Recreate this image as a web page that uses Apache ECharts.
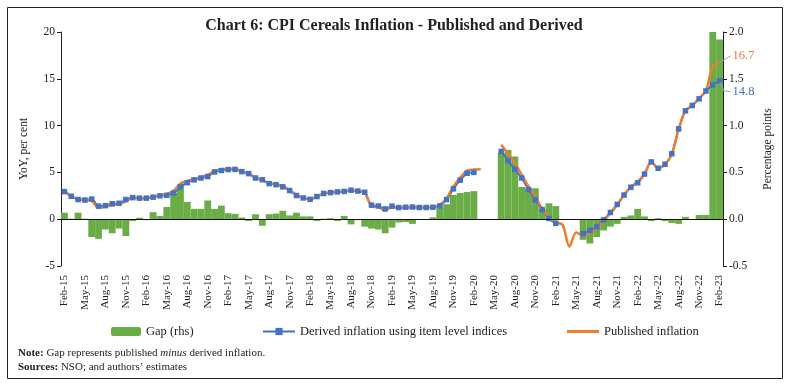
<!DOCTYPE html>
<html>
<head>
<meta charset="utf-8">
<script src="https://cdn.jsdelivr.net/npm/echarts@6/dist/echarts.min.js"></script>
<style>
html,body{margin:0;padding:0;background:#fff;}
#chart{width:788px;height:383px;}
</style>
</head>
<body>
<div id="chart"></div>
<script>
const categories = [
'Feb-15','Mar-15','Apr-15','May-15','Jun-15','Jul-15','Aug-15','Sep-15','Oct-15','Nov-15','Dec-15','Jan-16',
'Feb-16','Mar-16','Apr-16','May-16','Jun-16','Jul-16','Aug-16','Sep-16','Oct-16','Nov-16','Dec-16','Jan-17',
'Feb-17','Mar-17','Apr-17','May-17','Jun-17','Jul-17','Aug-17','Sep-17','Oct-17','Nov-17','Dec-17','Jan-18',
'Feb-18','Mar-18','Apr-18','May-18','Jun-18','Jul-18','Aug-18','Sep-18','Oct-18','Nov-18','Dec-18','Jan-19',
'Feb-19','Mar-19','Apr-19','May-19','Jun-19','Jul-19','Aug-19','Sep-19','Oct-19','Nov-19','Dec-19','Jan-20',
'Feb-20','Mar-20','Apr-20','May-20','Jun-20','Jul-20','Aug-20','Sep-20','Oct-20','Nov-20','Dec-20','Jan-21',
'Feb-21','Mar-21','Apr-21','May-21','Jun-21','Jul-21','Aug-21','Sep-21','Oct-21','Nov-21','Dec-21','Jan-22',
'Feb-22','Mar-22','Apr-22','May-22','Jun-22','Jul-22','Aug-22','Sep-22','Oct-22','Nov-22','Dec-22','Jan-23',
'Feb-23'];

// Gap (rhs), percentage points
const gap = [
0.07,0.005,0.07,0.005,-0.19,-0.21,-0.11,-0.15,-0.10,-0.18,-0.02,0.015,
-0.01,0.075,0.035,0.13,0.28,0.37,0.185,0.11,0.11,0.20,0.11,0.145,
0.064,0.057,0.018,-0.02,0.053,-0.07,0.053,0.06,0.09,0.04,0.07,0.03,
0.03,-0.02,0.005,0.01,-0.02,0.035,-0.055,-0.01,-0.08,-0.10,-0.11,-0.15,
-0.09,-0.035,-0.03,-0.05,0.0,0.0,0.02,0.135,0.16,0.26,0.28,0.29,
0.30,null,null,null,0.71,0.74,0.67,0.345,0.33,0.33,0.11,0.17,
0.14,null,null,null,-0.22,-0.26,-0.19,-0.12,-0.08,-0.05,0.025,0.04,
0.11,0.03,-0.02,0.01,-0.02,-0.04,-0.05,0.025,0.0,0.045,0.045,2.0,
1.92];

// Derived inflation using item level indices, per cent
const derived = [
2.95,2.45,2.1,2.05,2.15,1.4,1.45,1.65,1.7,2.1,2.3,2.25,
2.25,2.35,2.5,2.55,2.8,3.45,3.9,4.2,4.4,4.55,5.05,5.2,
5.3,5.32,5.08,4.87,4.4,4.22,3.8,3.69,3.46,3.06,2.53,2.27,
2.12,2.42,2.75,2.84,2.92,2.97,3.1,3.01,2.88,1.5,1.41,1.1,
1.39,1.24,1.28,1.3,1.25,1.25,1.28,1.42,2.09,3.24,4.17,4.91,
5.0,null,null,null,7.24,6.26,5.33,4.4,3.17,2.07,1.03,0.08,
-0.44,null,null,null,-1.53,-1.19,-0.81,-0.08,0.72,1.58,2.58,3.41,
3.89,4.82,6.12,5.44,5.87,6.99,9.65,11.58,12.15,12.86,13.7,14.35,
14.8];

// Published inflation, per cent
const published = [
3.05,2.45,2.15,2.05,1.95,1.2,1.35,1.5,1.6,1.9,2.3,2.25,
2.25,2.4,2.55,2.7,3.05,3.8,4.1,4.3,4.5,4.75,5.15,5.35,
5.37,5.38,5.1,4.85,4.45,4.15,3.85,3.75,3.55,3.1,2.6,2.3,
2.15,2.4,2.75,2.85,2.9,3.0,3.05,3.0,2.8,1.4,1.3,0.95,
1.3,1.2,1.25,1.25,1.25,1.25,1.3,1.55,2.25,3.5,4.45,5.2,
5.3,5.33,null,null,7.95,7.0,6.0,4.75,3.5,2.4,1.14,0.25,
-0.3,-0.6,-2.92,-1.42,-1.75,-1.45,-1.0,-0.2,0.64,1.53,2.6,3.45,
4.0,4.85,6.1,5.45,5.85,6.95,9.6,11.6,12.15,12.9,13.75,16.35,
16.7];

const leftTicks = [-5, 20, 5];
const rightTicks = [-0.5, 2.0, 0.5];

const serif = 'Liberation Serif';
const GREEN = '#6aac46', BLUE = '#4472c4', ORANGE = '#ed7d31';

const chart = echarts.init(document.getElementById('chart'), null, {renderer: 'canvas'});
const legendText = {fontFamily: serif, fontSize: 12.5, color: '#222'};
const option = {
  backgroundColor: '#fff',
  animation: false,
  title: [
    {text: 'Chart 6: CPI Cereals Inflation - Published and Derived', left: 'center', top: 13,
     textStyle: {fontFamily: serif, fontWeight: 'bold', fontSize: 16, color: '#222'}},
    {text: '{b|Note:} Gap represents published {i|minus} derived inflation.\n{b|Sources:} NSO; and authors\u2019 estimates',
     left: 13, top: 341,
     textStyle: {fontFamily: serif, fontSize: 11, fontWeight: 'normal', color: '#222', lineHeight: 14,
       rich: {b: {fontFamily: serif, fontSize: 11, fontWeight: 'bold', color: '#222'},
              i: {fontFamily: serif, fontSize: 11, fontStyle: 'italic', fontWeight: 'normal', color: '#222'}}}}
  ],
  legend: [
    {data: ['Gap (rhs)'], left: 106, top: 320, itemWidth: 30, itemHeight: 9, textStyle: legendText},
    {data: ['Derived inflation using item level indices'], left: 257, top: 320, itemWidth: 32, itemHeight: 9,
     textStyle: legendText},
    {data: [{name: 'Published inflation', icon: 'rect'}], left: 562, top: 320, itemWidth: 32, itemHeight: 3,
     textStyle: legendText}
  ],
  grid: {left: 61, right: 65, top: 32, bottom: 117, containLabel: false},
  xAxis: {
    type: 'category', data: categories, boundaryGap: true,
    axisLine: {show: false}, axisTick: {show: false},
    axisLabel: {interval: 2, rotate: 90, margin: 9, fontFamily: serif, fontSize: 11, color: '#222'}
  },
  yAxis: [
    {type: 'value', min: leftTicks[0], max: leftTicks[1], interval: leftTicks[2],
     name: 'YoY, per cent', nameLocation: 'middle', nameGap: 31, nameRotate: 90,
     nameTextStyle: {fontFamily: serif, fontSize: 11.5, color: '#222'},
     axisLine: {show: true, onZero: false, lineStyle: {color: '#222', width: 1}},
     axisTick: {show: true, inside: false, length: 4, lineStyle: {color: '#222'}},
     axisLabel: {fontFamily: serif, fontSize: 11.5, color: '#222', margin: 6},
     splitLine: {show: false}},
    {type: 'value', min: rightTicks[0], max: rightTicks[1], interval: rightTicks[2], position: 'right',
     name: 'Percentage points', nameLocation: 'middle', nameGap: 39, nameRotate: 90,
     nameTextStyle: {fontFamily: serif, fontSize: 11.5, color: '#222'},
     axisLine: {show: true, onZero: false, lineStyle: {color: '#222', width: 1}},
     axisTick: {show: true, inside: false, length: 4, lineStyle: {color: '#222'}},
     axisLabel: {fontFamily: serif, fontSize: 11.5, color: '#222', margin: 6, formatter: v => v.toFixed(1)},
     splitLine: {show: false}}
  ],
  series: [
    {name: 'Gap (rhs)', type: 'bar', yAxisIndex: 1, data: gap, barCategoryGap: '0%',
     itemStyle: {color: GREEN},
     markLine: {silent: true, symbol: 'none', label: {show: false},
       lineStyle: {color: '#111', width: 1.2, type: 'solid'}, data: [{yAxis: 0}]}},
    {name: 'Derived inflation using item level indices', type: 'line', yAxisIndex: 0,
     data: derived, smooth: 0.3,
     symbol: 'rect', symbolSize: 5.5, showSymbol: true, showAllSymbol: true,
     itemStyle: {color: BLUE}, lineStyle: {color: BLUE, width: 2}},
    {name: 'Published inflation', type: 'line', yAxisIndex: 0,
     data: published, smooth: 0.3,
     symbol: 'none', showSymbol: false,
     itemStyle: {color: ORANGE}, lineStyle: {color: ORANGE, width: 2.5}}
  ]
};
chart.setOption(option);

// End-value labels with grey leader lines, anchored on the last data points via the axes
const lastIdx = categories.length - 1;
const pO = chart.convertToPixel({seriesIndex: 2}, [lastIdx, published[lastIdx]]);
const pB = chart.convertToPixel({seriesIndex: 1}, [lastIdx, derived[lastIdx]]);
chart.setOption({
  graphic: [
    {type: 'rect', left: 5, top: 5, shape: {width: 775, height: 371},
     style: {fill: 'none', stroke: '#222', lineWidth: 1}, silent: true},
    {type: 'polyline', shape: {points: [[pO[0] + 1, pO[1] - 1], [pO[0] + 11, pO[1] - 7]]},
     style: {stroke: '#a6a6a6', lineWidth: 1, fill: 'none'}, silent: true, z: 10},
    {type: 'text', x: pO[0] + 13, y: pO[1] - 7,
     style: {text: published[lastIdx].toFixed(1), fill: ORANGE, font: '12.5px "Liberation Serif"',
       textVerticalAlign: 'middle', verticalAlign: 'middle'}, silent: true, z: 10},
    {type: 'polyline', shape: {points: [[pB[0] + 1, pB[1] + 2], [pB[0] + 4, pB[1] + 10], [pB[0] + 11, pB[1] + 11]]},
     style: {stroke: '#a6a6a6', lineWidth: 1, fill: 'none'}, silent: true, z: 10},
    {type: 'text', x: pB[0] + 13, y: pB[1] + 11,
     style: {text: derived[lastIdx].toFixed(1), fill: BLUE, font: '12.5px "Liberation Serif"',
       textVerticalAlign: 'middle', verticalAlign: 'middle'}, silent: true, z: 10}
  ]
});
</script>
</body>
</html>
